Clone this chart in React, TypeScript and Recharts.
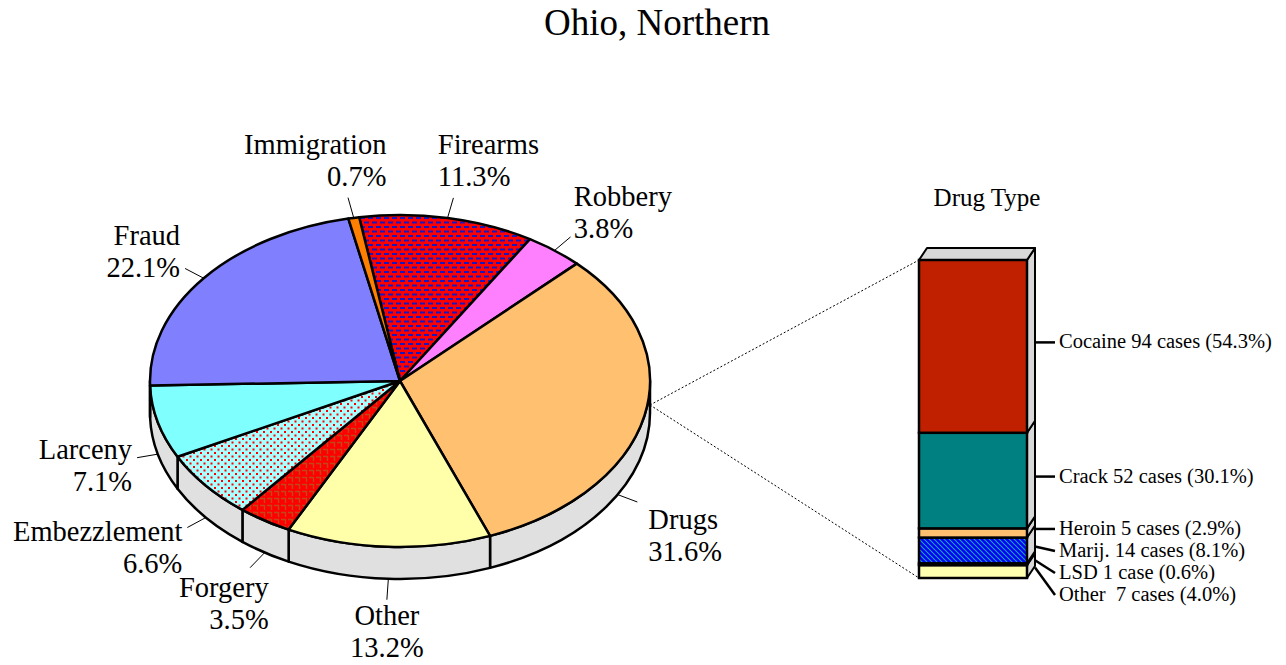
import React from 'react';
import { PieChart, Pie, Cell, BarChart, Bar, XAxis, YAxis } from 'recharts';

// offence shares, clockwise from 12 o'clock
const CATEGORIES = ['Firearms', 'Robbery', 'Drugs', 'Other', 'Forgery', 'Embezzlement', 'Larceny', 'Fraud', 'Immigration'];
const SHARES = [11.3, 3.8, 31.6, 13.2, 3.5, 6.6, 7.1, 22.1, 0.7];
const FILLS = ['url(#firearms)', '#ff80ff', '#ffc070', '#ffffaa', 'url(#forgery)', 'url(#embezzle)', '#80ffff', '#8080ff', '#ff8000'];

// drug breakdown, top of the stack first
const DRUG_TYPES = ['Cocaine', 'Crack', 'Heroin', 'Marij.', 'LSD', 'Other '];
const DRUG_CASES = [94, 52, 5, 14, 1, 7];
const DRUG_FILLS = ['#c02000', '#008080', '#ffc070', 'url(#marij)', '#000000', '#ffffb0'];

const W = 1286;
const H = 665;
const CX = 400;
const CY = 381;
const RX = 250;
const TILT = 0.664;
const DEPTH = 32;
const START = 99.4;
const LINKED = 2; // Drugs slice is broken down in the bar
const LINKED_LABEL_TURN = 17.5; // keep its label clear of the connector lines
const LINKED_LABEL_DROP = 18;
const BAR = { left: 919, right: 1027, top: 260, bottom: 578 };
const BAR_DX = 8;
const BAR_DY = 12;
const LABEL_GAP = 22;
const SERIF = '"Liberation Serif", "Times New Roman", serif';

const pieData = CATEGORIES.map((name, i) => ({ name, value: SHARES[i] }));
const drugRow: Record<string, any> = { name: 'Drugs' };
DRUG_TYPES.forEach((_, i) => (drugRow[`d${i}`] = DRUG_CASES[i]));
const TOTAL = DRUG_CASES.reduce((a, b) => a + b, 0);

const ellPt = (cx: number, cy: number, rx: number, ry: number, deg: number, dy = 0) => {
  const r = (deg * Math.PI) / 180;
  return [cx + rx * Math.cos(r), cy - ry * Math.sin(r) + dy];
};

function Slice(props: any) {
  const { cx, cy, outerRadius, startAngle, endAngle, fill } = props;
  const rx = outerRadius;
  const ry = outerRadius * TILT;
  const hi = Math.max(startAngle, endAngle);
  const lo = Math.min(startAngle, endAngle);
  const p = (deg: number, dy = 0) => ellPt(cx, cy, rx, ry, deg, dy).join(',');
  const sides: number[][] = [];
  for (let k = -2; k <= 1; k++) {
    const a = Math.max(lo, -180 + 360 * k);
    const b = Math.min(hi, 360 * k);
    if (b - a > 0.01) sides.push([a, b]);
  }
  const large = hi - lo > 180 ? 1 : 0;
  return (
    <g>
      {sides.map(([a, b], i) => (
        <path
          key={i}
          d={`M${p(b)} A${rx},${ry} 0 0 1 ${p(a)} L${p(a, DEPTH)} A${rx},${ry} 0 0 0 ${p(b, DEPTH)} Z`}
          fill="#e0e0e0"
          stroke="#000"
          strokeWidth={2.5}
          strokeLinejoin="round"
        />
      ))}
      <path
        d={`M${cx},${cy} L${p(hi)} A${rx},${ry} 0 ${large} 1 ${p(lo)} Z`}
        fill={fill}
        stroke="#000"
        strokeWidth={2.5}
        strokeLinejoin="round"
      />
    </g>
  );
}

function sliceLabel(props: any) {
  const { cx, cy, midAngle, outerRadius } = props;
  const index = props.index ?? CATEGORIES.indexOf(props.name);
  const linked = index === LINKED;
  const rx = outerRadius;
  const ry = outerRadius * TILT;
  const phi = linked ? midAngle - LINKED_LABEL_TURN : midAngle;
  const r = (phi * Math.PI) / 180;
  const c = Math.cos(r);
  const s = Math.sin(r);
  const ax = cx + rx * c;
  const ay = cy - ry * s + (s < 0 ? DEPTH : 0);
  const len = Math.hypot(rx * c, ry * s);
  const ux = (rx * c) / len;
  const uy = (-ry * s) / len;
  const ex = ax + 21 * ux;
  const ey = ay + 21 * uy;
  const steep = Math.max(0, Math.abs(uy) - 0.6);
  let base = ey - 5 + 40 * Math.min(uy, 0.75) + (linked ? LINKED_LABEL_DROP : 0);
  let anchor: 'start' | 'middle' | 'end' = 'middle';
  let tx = ex;
  if (Math.abs(ux) >= 0.15) {
    if (uy > 0 && steep > 0) base += 6;
    if (ux < 0) {
      anchor = 'end';
      tx = ex - 5 + steep * (uy > 0 ? 200 : 120);
    } else {
      anchor = 'start';
      tx = ex + 6 - steep * 60 + (linked ? 5 : 0);
    }
  }
  return (
    <g key={`lab-${index}`}>
      <line x1={ax} y1={ay} x2={ex} y2={ey} stroke="#000" strokeWidth={1} />
      <text x={tx} y={base} textAnchor={anchor} fontFamily={SERIF} fontSize={28.5} fill="#000">
        <tspan x={tx}>{CATEGORIES[index]}</tspan>
        <tspan x={tx} dy={32}>{SHARES[index].toFixed(1)}%</tspan>
      </text>
    </g>
  );
}

function Block(props: any) {
  const { x, y, width, height, fill, idx } = props;
  const casesBelow = (j: number) => DRUG_CASES.slice(j + 1).reduce((a, b) => a + b, 0);
  const ppc = height / DRUG_CASES[idx];
  const plotBottom = y + height + casesBelow(idx) * ppc;
  // push labels down so they don't collide
  let prev = -Infinity;
  let anchorY = 0;
  let labelY = 0;
  DRUG_CASES.forEach((cases, j) => {
    const a = plotBottom - (casesBelow(j) + cases / 2) * ppc - BAR_DY / 3;
    const ly = Math.max(a, prev + LABEL_GAP);
    prev = ly;
    if (j === idx) {
      anchorY = a;
      labelY = ly;
    }
  });
  const rx = x + width;
  const pct = ((DRUG_CASES[idx] / TOTAL) * 100).toFixed(1);
  const caseWord = DRUG_CASES[idx] === 1 ? 'case' : 'cases';
  return (
    <g>
      <polygon
        points={`${rx},${y} ${rx + BAR_DX},${y - BAR_DY} ${rx + BAR_DX},${y + height - BAR_DY} ${rx},${y + height}`}
        fill="#d8d8d8"
        stroke="#000"
        strokeWidth={2}
        strokeLinejoin="round"
      />
      {idx === 0 && (
        <polygon
          points={`${x},${y} ${x + BAR_DX},${y - BAR_DY} ${rx + BAR_DX},${y - BAR_DY} ${rx},${y}`}
          fill="#d8d8d8"
          stroke="#000"
          strokeWidth={2}
          strokeLinejoin="round"
        />
      )}
      <rect x={x} y={y} width={width} height={height} fill={fill} stroke="#000" strokeWidth={2.5} />
      <line x1={rx + BAR_DX} y1={anchorY} x2={rx + BAR_DX + 20} y2={labelY} stroke="#000" strokeWidth={2.5} />
      <text x={rx + BAR_DX + 24} y={labelY + 6} fontFamily={SERIF} fontSize={20.5} fill="#000" style={{ whiteSpace: 'pre' }}>
        {`${DRUG_TYPES[idx]} ${DRUG_CASES[idx]} ${caseWord} (${pct}%)`}
      </text>
    </g>
  );
}

export default function App() {
  const order = DRUG_TYPES.map((_, i) => i).reverse(); // bottom of stack first
  return (
    <div style={{ position: 'absolute', left: 0, top: 0, width: W, height: H, background: '#fff' }}>
      <div style={{ position: 'absolute', left: 0, top: 0 }}>
        <PieChart width={W} height={H} margin={{ top: 0, right: 0, bottom: 0, left: 0 }}>
          <Pie
            data={pieData}
            dataKey="value"
            nameKey="name"
            cx={CX}
            cy={CY}
            outerRadius={RX}
            startAngle={START}
            endAngle={START - 360}
            isAnimationActive={false}
            stroke="#000"
            label={sliceLabel}
            labelLine={false}
            shape={Slice}
            inactiveShape={Slice}
            activeShape={Slice}
          >
            {pieData.map((d, i) => (
              <Cell key={d.name} fill={FILLS[i]} />
            ))}
          </Pie>
        </PieChart>
      </div>
      <div style={{ position: 'absolute', left: 0, top: 0 }}>
        <BarChart
          width={W}
          height={H}
          data={[drugRow]}
          margin={{ top: BAR.top, bottom: H - BAR.bottom, left: BAR.left, right: W - BAR.right }}
          barCategoryGap={0}
        >
          <XAxis dataKey="name" hide />
          <YAxis hide domain={[0, TOTAL]} />
          {order.map((i) => (
            <Bar
              key={i}
              dataKey={`d${i}`}
              stackId="drugs"
              fill={DRUG_FILLS[i]}
              isAnimationActive={false}
              shape={(p: any) => <Block {...p} fill={DRUG_FILLS[i]} idx={i} />}
            />
          ))}
        </BarChart>
      </div>
      <svg width={W} height={H} style={{ position: 'absolute', left: 0, top: 0, pointerEvents: 'none' }}>
        <defs>
          <pattern id="firearms" width="8" height="9" patternUnits="userSpaceOnUse">
            <rect width="8" height="9" fill="#ff0000" />
            <rect x="0" y="1" width="5" height="2" fill="#1818c0" />
            <rect x="4" y="5.5" width="5" height="2" fill="#1818c0" />
            <rect x="-4" y="5.5" width="5" height="2" fill="#1818c0" />
          </pattern>
          <pattern id="embezzle" width="7" height="7" patternUnits="userSpaceOnUse">
            <rect width="7" height="7" fill="#a8ffff" />
            <rect x="0.5" y="0.5" width="2" height="2" fill="#ff0000" />
            <rect x="4" y="4" width="2" height="2" fill="#ff0000" />
          </pattern>
          <pattern id="forgery" width="7" height="7" patternUnits="userSpaceOnUse">
            <rect width="7" height="7" fill="#ff0000" />
            <path d="M1 1.5 H5.5 V6" fill="none" stroke="#c04818" strokeWidth="1.4" />
          </pattern>
          <pattern id="marij" width="5" height="5" patternUnits="userSpaceOnUse">
            <rect width="5" height="5" fill="#0000ff" />
            <path d="M0 0 L5 5 M-1 4 L1 6 M4 -1 L6 1" stroke="#20a0a0" strokeWidth="1.2" />
          </pattern>
        </defs>
        <text x={657} y={35} textAnchor="middle" fontFamily={SERIF} fontSize={37} fill="#000">
          Ohio, Northern
        </text>
        <text x={987} y={206} textAnchor="middle" fontFamily={SERIF} fontSize={25} fill="#000">
          Drug Type
        </text>
        <line x1={CX + RX} y1={CY + DEPTH * 0.75} x2={BAR.left} y2={BAR.top} stroke="#000" strokeWidth={1} strokeDasharray="2 2" />
        <line x1={CX + RX} y1={CY + DEPTH * 0.75} x2={BAR.left} y2={BAR.bottom} stroke="#000" strokeWidth={1} strokeDasharray="2 2" />
      </svg>
    </div>
  );
}
